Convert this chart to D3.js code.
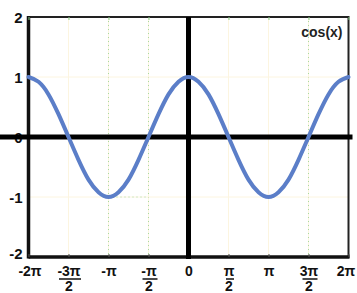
<!DOCTYPE html>
<html>
<head>
<meta charset="utf-8">
<script src="https://cdn.jsdelivr.net/npm/d3@7"></script>
<style>
  body { margin: 0; background: #fff; }
  text { font-family: "Liberation Sans", Arial, sans-serif; font-weight: bold; }
</style>
</head>
<body>
<div id="chart"></div>
<script>
var PI = Math.PI
// x positions in steps of pi/8 and the cos values
var xSteps = [-16,-15,-14,-13,-12,-11,-10,-9,-8,-7,-6,-5,-4,-3,-2,-1,0,1,2,3,4,5,6,7,8,9,10,11,12,13,14,15,16]
var yValues = [1,0.92,0.71,0.38,0,-0.38,-0.71,-0.92,-1,-0.92,-0.71,-0.38,0,0.38,0.71,0.92,1,0.92,0.71,0.38,0,-0.38,-0.71,-0.92,-1,-0.92,-0.71,-0.38,0,0.38,0.71,0.92,1]
var xTickSteps = [-4,-3,-2,-1,0,1,2,3,4]   // in units of pi/2
var xTickLabels = ["-2π","-3π/2","-π","-π/2","0","π/2","π","3π/2","2π"]
var yTicks = [-2,-1,0,1,2]
var greenGrid = [-2,-1,3]
var seriesLabel = "cos(x)"

var width = 357, height = 293
var pLeft = 28.5, pRight = 348.5, pTop = 17, pBottom = 257

var svg = d3.select("#chart").append("svg")
	.attr("width", width)
	.attr("height", height)

var x = d3.scaleLinear().domain([-2 * PI, 2 * PI]).range([pLeft, pRight])
var y = d3.scaleLinear().domain([-2, 2]).range([pBottom, pTop])

// grid
svg.selectAll(".vgrid").data(xTickSteps.filter(function(d) { return d != 0 && Math.abs(d) != 4 }))
	.enter().append("line")
	.attr("x1", function(d) { return x(d * PI / 2) })
	.attr("x2", function(d) { return x(d * PI / 2) })
	.attr("y1", pTop).attr("y2", pBottom)
	.attr("stroke", "#fcf5e0").attr("stroke-width", 1)
svg.selectAll(".ggrid").data(greenGrid)
	.enter().append("line")
	.attr("x1", function(d) { return x(d * PI / 2) })
	.attr("x2", function(d) { return x(d * PI / 2) })
	.attr("y1", pTop).attr("y2", pBottom)
	.attr("stroke", "#a8d8a0").attr("stroke-width", 1)
	.attr("stroke-dasharray", "1,3")
svg.selectAll(".hgrid").data([-1, 1])
	.enter().append("line")
	.attr("x1", pLeft).attr("x2", pRight)
	.attr("y1", function(d) { return y(d) })
	.attr("y2", function(d) { return y(d) })
	.attr("stroke", "#fcf5e0").attr("stroke-width", 1)
svg.append("line")
	.attr("x1", x(-PI)).attr("x2", x(-PI / 2))
	.attr("y1", y(-1)).attr("y2", y(-1))
	.attr("stroke", "#a8d8a0").attr("stroke-dasharray", "1,3")

// frame
svg.append("rect")
	.attr("x", pLeft).attr("y", pTop)
	.attr("width", pRight - pLeft).attr("height", pBottom - pTop)
	.attr("fill", "none").attr("stroke", "#222").attr("stroke-width", 2)
svg.append("line").attr("x1", pLeft).attr("x2", pLeft).attr("y1", pTop - 1).attr("y2", pBottom + 1.5)
	.attr("stroke", "#111").attr("stroke-width", 3.5)
svg.append("line").attr("x1", pLeft).attr("x2", pRight + 1).attr("y1", pBottom).attr("y2", pBottom)
	.attr("stroke", "#111").attr("stroke-width", 3.5)

// axes (ticks + labels)
var yAxis = svg.append("g")
	.attr("transform", "translate(" + pLeft + ",0)")
	.call(d3.axisLeft(y).tickValues(yTicks).tickSize(0).tickPadding(6).tickFormat(function(d) { return String(d) }))
yAxis.select(".domain").remove()
yAxis.selectAll("text").attr("font-size", 15).attr("fill", "#111")
	.attr("dy", function(d) { return d == -2 ? "0.1em" : "0.35em" })

var xAxis = svg.append("g")
	.attr("transform", "translate(0," + pBottom + ")")
	.call(d3.axisBottom(x).tickValues(xTickSteps.map(function(d) { return d * PI / 2 })).tickSize(-3).tickFormat(""))
xAxis.select(".domain").remove()
xAxis.selectAll("line").attr("stroke", "#555")
xAxis.selectAll(".tick").each(function(d, i) {
	var g = d3.select(this)
	var lab = xTickLabels[i]
	var parts = lab.split("/")
	var dx = i == 0 ? 1 : (i == xTickLabels.length - 1 ? -3 : 0)
	g.append("text").attr("x", dx).attr("y", 19).attr("text-anchor", "middle")
		.attr("font-size", 14).attr("fill", "#111").text(parts[0])
	if (parts.length > 1) {
		var w = parts[0].length * 7 + 1
		g.append("line").attr("x1", -w / 2 + 1).attr("x2", w / 2 + 1).attr("y1", 22).attr("y2", 22)
			.attr("stroke", "#111").attr("stroke-width", 1.5)
		g.append("text").attr("y", 34).attr("text-anchor", "middle")
			.attr("font-size", 14).attr("fill", "#111").text(parts[1])
	}
})
svg.append("g").attr("transform", "translate(0," + pTop + ")")
	.call(d3.axisTop(x).tickValues(xTickSteps.map(function(d) { return d * PI / 2 })).tickSize(-3).tickFormat(""))
	.call(function(g) { g.select(".domain").remove(); g.selectAll("line").attr("stroke", "#8c8") })

// zero axes
svg.append("line").attr("x1", 0).attr("x2", pRight + 4).attr("y1", y(0)).attr("y2", y(0))
	.attr("stroke", "#000").attr("stroke-width", 5)
svg.append("line").attr("x1", x(0)).attr("x2", x(0)).attr("y1", pTop).attr("y2", pBottom + 2)
	.attr("stroke", "#000").attr("stroke-width", 5)

// curve
var pts = xSteps.map(function(s, i) { return { x: s * PI / 8, y: yValues[i] } })
var line = d3.line()
	.x(function(d) { return x(d.x) })
	.y(function(d) { return y(d.y) })
	.curve(d3.curveNatural)
svg.append("path").datum(pts)
	.attr("d", line)
	.attr("fill", "none")
	.attr("stroke", "#5b7ec8")
	.attr("stroke-width", 4)
	.attr("stroke-linecap", "round")

svg.append("text").attr("x", pRight - 6).attr("y", 37).attr("text-anchor", "end")
	.attr("font-size", 14).attr("fill", "#222").text(seriesLabel)
</script>
</body>
</html>
